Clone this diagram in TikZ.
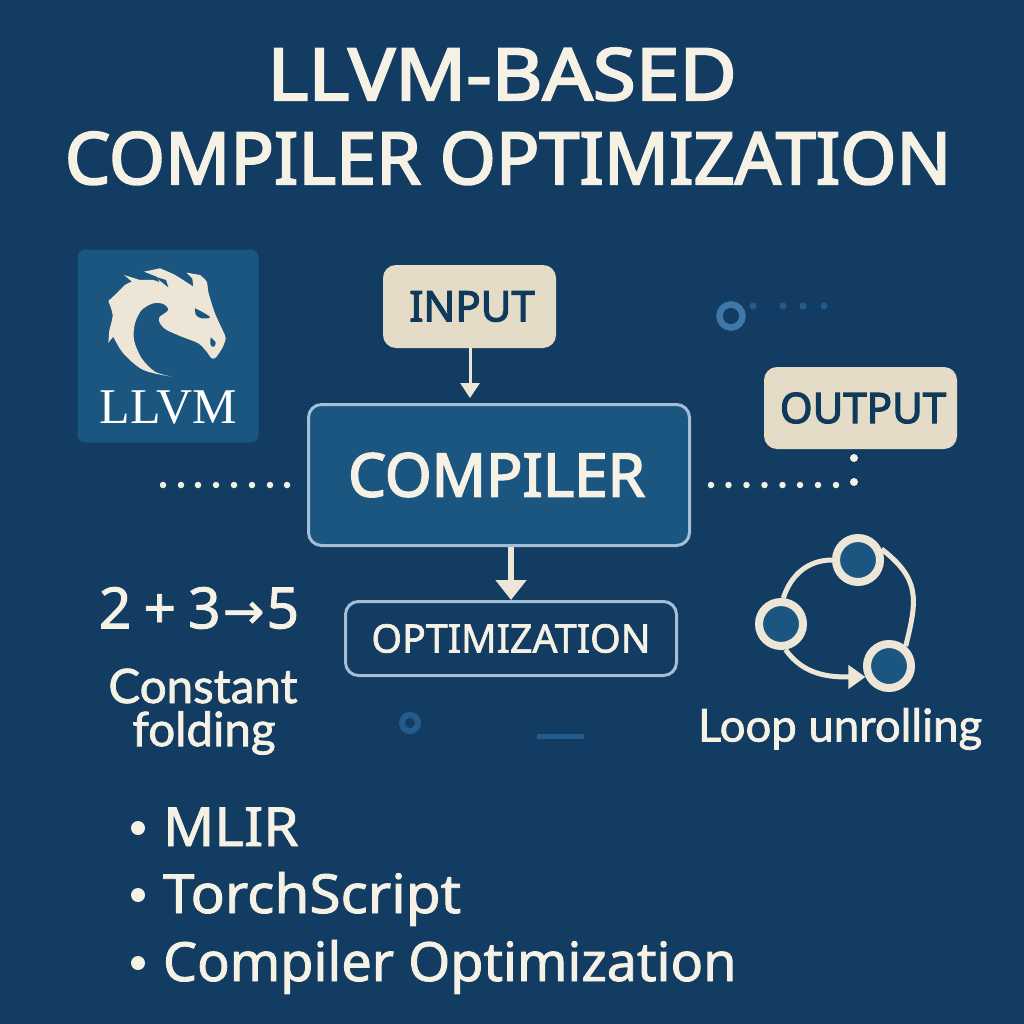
\documentclass[tikz,border=0pt]{standalone}
\usepackage{fontspec}
\usetikzlibrary{arrows.meta}
\setmainfont{Noto Sans}
\newfontfamily\hf{Noto Sans}[FakeBold=2.8]
\newfontfamily\mf{Noto Sans}[FakeBold=1.6]
\newfontfamily\capfont{Lato}[FakeBold=1.6]
\newfontfamily\logofont{Liberation Serif}
\newfontfamily\symfont{DejaVu Sans}[FakeBold=1]
\definecolor{bg}{HTML}{123C62}
\definecolor{panel}{HTML}{1B5680}
\definecolor{cream}{HTML}{F6F1E5}
\definecolor{sand}{HTML}{E4DCC6}
\definecolor{dragon}{HTML}{EDE6D6}
\definecolor{edge}{HTML}{A3BED6}
\definecolor{ink}{HTML}{0F3A5C}
\definecolor{deco}{HTML}{235C8C}
\definecolor{ringc}{HTML}{3F78A6}
\newcommand{\fs}[1]{\fontsize{#1}{#1}\selectfont}
\tikzset{
  every node/.style={inner sep=0pt,outer sep=0pt},
  sandbox/.style={fill=sand,rounded corners=13pt,text=ink,font=\hf\fs{42}},
  txt/.style={text=cream},
  linenode/.style={circle,draw=dragon,line width=8pt,fill=panel,minimum size=44pt,outer sep=4pt},
  cdot/.style={circle,fill=cream,minimum size=6.5pt},
  bdot/.style={circle,fill=deco,minimum size=7pt},
  link/.style={draw=dragon,line width=5pt},
}
\begin{document}
\begin{tikzpicture}[x=1pt,y=1pt]
\path[use as bounding box,fill=bg] (0,0) rectangle (1024,-1024);
% title
\node[txt,font=\hf\fs{72},anchor=base] (t1) at (502,-100) {\scalebox{1.09}[1]{LLVM-BASED}};
\node[txt,font=\hf\fs{72},anchor=base] (t2) at (508,-184) {COMPILER OPTIMIZATION};
% logo
\node[fill=panel,rounded corners=8pt,minimum width=181pt,minimum height=193pt] (logo) at (168,-346) {};
\begin{scope}[shift={(60,-230)},x=0.3333pt,y=-0.3333pt]
\fill[dragon] plot[smooth,tension=.55] coordinates {(335,440) (250,420) (190,370) (160,320)}
 -- (145,338) -- plot[smooth,tension=.5] coordinates {(148,300) (158,255) (145,213)}
 -- plot[smooth,tension=.5] coordinates {(170,190) (195,165) (216,155)}
 -- (192,135) -- plot[smooth,tension=.5] coordinates {(240,150) (280,150) (300,158)}
 -- plot[smooth,tension=.5] coordinates {(290,140) (252,125)}
 -- plot[smooth,tension=.5] coordinates {(300,115) (345,135) (400,170)}
 -- plot[smooth,tension=.5] coordinates {(397,145) (380,128)}
 -- plot[smooth,tension=.5] coordinates {(420,135) (440,155) (446,190) (465,250) (490,305) (497,325) (488,352) (468,382) (455,385) (440,365) (415,340) (370,322) (320,300) (300,280) (298,262) (325,240) (310,222) (280,220) (245,240) (225,280) (222,330) (245,385) (285,425) (335,440)} -- cycle;
\fill[panel] (285,140) -- (325,172) -- (318,150) -- cycle;
\fill[panel] plot[smooth,tension=.6] coordinates {(405,235) (425,245) (450,262) (425,265) (408,255) (405,235)} -- cycle;
\fill[panel] plot[smooth,tension=.6] coordinates {(452,322) (467,337) (462,350) (452,345) (452,322)} -- cycle;
\end{scope}
\node[text=white,font=\logofont\fs{50},anchor=base] (llvm) at (168,-423) {LLVM};
% boxes
\node[sandbox,minimum width=173pt,minimum height=83pt] (input) at (469.5,-306.5) {\kern5pt INPUT};
\node[sandbox,minimum width=193pt,minimum height=82pt] (output) at (860.5,-408) {\kern5pt OUTPUT};
\node[fill=panel,draw=edge,line width=3pt,rounded corners=13pt,minimum width=381pt,minimum height=141pt,text=cream,font=\hf\fs{60}] (compiler) at (499,-475) {COMPILER\kern5pt};
\node[draw=edge,line width=3pt,rounded corners=13pt,minimum width=331pt,minimum height=74pt,text=cream,font=\mf\fs{39.3}] (opt) at (511,-638.5) {OPTIMIZATION};
% arrows
\coordinate (inA) at (470,-348);
\coordinate (inB) at (470,-398);
\draw[draw=dragon,line width=3pt,-{Triangle[length=15pt,width=19pt]}] (inA) -- (inB);
\coordinate (cA) at (511,-547);
\coordinate (cB) at (511,-600);
\draw[draw=dragon,line width=5.5pt,-{Triangle[length=20pt,width=30pt]}] (cA) -- (cB);
% dotted rows
\foreach \x/\n in {163/a,181/b,198/c,216/d,234/e,252/f,270/g,287/h}
  \node[cdot] (l\n) at (\x,-485) {};
\foreach \x/\n in {711/a,728.5/b,746.5/c,764.5/d,782.5/e,800/f,818/g,836/h}
  \node[cdot] (r\n) at (\x,-485) {};
\node[cdot,minimum size=8pt] (r1) at (854,-482) {};
\node[cdot,minimum size=8pt] (r2) at (854,-458) {};
% decorations
\node[circle,draw=ringc,line width=6.5pt,minimum size=23pt] (ring1) at (731,-316) {};
\foreach \x/\n in {753/a,783/b,803/c,824/d}
  \node[bdot] (d\n) at (\x,-306) {};
\node[circle,draw=deco,line width=6pt,minimum size=16pt] (ring2) at (410,-723) {};
\fill[deco] (537,-734) rectangle (584,-739);
% constant folding
\node[txt,font=\mf\fs{57}] (sum) at (199,-608) {2\hspace{12pt}+\hspace{12pt}3\hspace{2pt}{\symfont\fs{50}→}\hspace{2pt}5};
\node[txt,font=\capfont\fs{47.5}] (cf1) at (203,-686) {Constant};
\node[txt,font=\capfont\fs{47.5}] (cf2) at (204,-733) {folding};
% loop
\node[linenode] (top) at (858,-560) {};
\node[linenode] (left) at (781,-624) {};
\node[linenode] (right) at (889,-666) {};
\draw[link] (left.85) to[out=72,in=180] (top.180);
\draw[link] (top.25) to[out=-38,in=76,looseness=1.25] (right.50);
\draw[link,-{Triangle[length=17pt,width=23pt]}] (left.-80) to[out=-55,in=180] (right.205);
\node[txt,font=\capfont\fs{45.5}] (lu) at (840,-729) {Loop unrolling};
% bullets
\foreach \y/\n/\s/\t in {-846/a/1.05/MLIR,-913/b/1.05/TorchScript,-981/c/1/Compiler Optimization}{
  \node[circle,fill=cream,minimum size=14pt] (b\n) at (138,\y+18) {};
  \node[txt,anchor=base west,font=\mf\fs{54}] (bt\n) at (163,\y) {\scalebox{\s}[1]{\t}};
}
\end{tikzpicture}
\end{document}
